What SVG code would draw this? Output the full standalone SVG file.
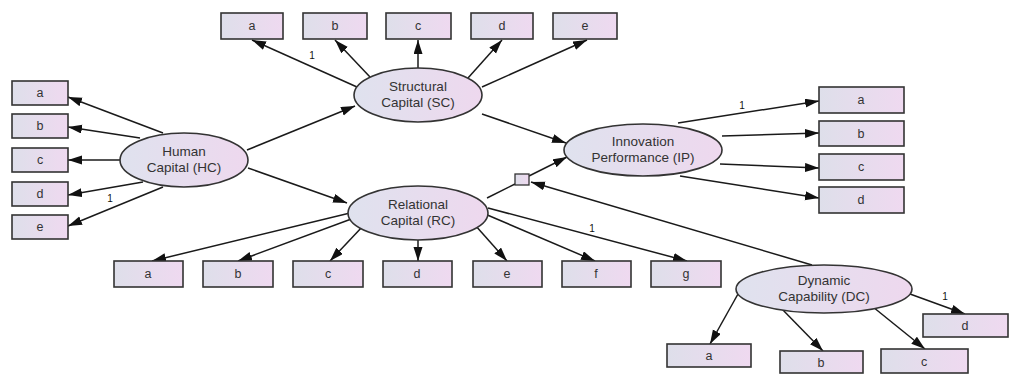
<svg xmlns="http://www.w3.org/2000/svg" width="1011" height="374" viewBox="0 0 1011 374">
<style>
.box{fill:url(#g);stroke:#333;stroke-width:1.6}
.lat{fill:url(#g2);stroke:#333;stroke-width:1.6}
.t{font-family:"Liberation Sans",Arial,sans-serif;font-size:12.5px;fill:#333;text-anchor:middle}
.lt{font-family:"Liberation Sans",Arial,sans-serif;font-size:13.5px;fill:#333;text-anchor:middle}
.one{font-family:"Liberation Sans",Arial,sans-serif;font-size:10px;fill:#111;text-anchor:middle}
#conn line{stroke:#1a1a1a;stroke-width:1.5;fill:none}
.a{marker-end:url(#ar)}
</style>
<defs>
<linearGradient id="g" x1="0" y1="0" x2="1" y2="0"><stop offset="0" stop-color="#dedfea"/><stop offset="1" stop-color="#efd9f0"/></linearGradient>
<linearGradient id="g2" x1="0" y1="0" x2="1" y2="0"><stop offset="0" stop-color="#dfe2ee"/><stop offset="1" stop-color="#eed8ee"/></linearGradient>
<marker id="ar" markerUnits="userSpaceOnUse" markerWidth="15" markerHeight="10" refX="14" refY="4.5" orient="auto"><path d="M0,0 L14,4.5 L0,9 z" fill="#111"/></marker>
</defs>
<rect width="1011" height="374" fill="#fff"/>
<g id="conn">
<line class="a" x1="357" y1="87" x2="252" y2="40"/>
<line class="a" x1="370" y1="77" x2="335" y2="40"/>
<line class="a" x1="418" y1="68" x2="418" y2="40"/>
<line class="a" x1="468" y1="78" x2="502" y2="40"/>
<line class="a" x1="482" y1="87" x2="587" y2="40"/>
<line class="a" x1="163" y1="133" x2="68" y2="97"/>
<line class="a" x1="140" y1="138" x2="68" y2="127"/>
<line class="a" x1="120" y1="160" x2="68" y2="160"/>
<line class="a" x1="143" y1="182" x2="68" y2="195"/>
<line class="a" x1="163" y1="187" x2="68" y2="226"/>
<line class="a" x1="678" y1="123" x2="819" y2="101"/>
<line class="a" x1="722" y1="136" x2="819" y2="133"/>
<line class="a" x1="720" y1="164" x2="819" y2="168"/>
<line class="a" x1="680" y1="176" x2="819" y2="198"/>
<line class="a" x1="350" y1="213" x2="152" y2="261"/>
<line class="a" x1="354" y1="218" x2="238" y2="261"/>
<line class="a" x1="363" y1="226" x2="330" y2="261"/>
<line class="a" x1="418" y1="240" x2="418" y2="261"/>
<line class="a" x1="475" y1="225" x2="507" y2="261"/>
<line class="a" x1="485" y1="214" x2="595" y2="261"/>
<line class="a" x1="488" y1="208" x2="687" y2="261"/>
<line class="a" x1="738" y1="294" x2="710" y2="344"/>
<line class="a" x1="780" y1="307" x2="823" y2="351"/>
<line class="a" x1="873" y1="307" x2="925" y2="349"/>
<line class="a" x1="910" y1="294" x2="965" y2="314"/>
<line class="a" x1="247" y1="150" x2="355" y2="106"/>
<line class="a" x1="248" y1="168" x2="347" y2="203"/>
<line class="a" x1="482" y1="114" x2="566" y2="143"/>
<line x1="487" y1="198" x2="515" y2="184"/>
<line class="a" x1="529" y1="176" x2="567" y2="157"/>
<line class="a" x1="812" y1="265" x2="531" y2="182"/>
</g>
<g id="square"><rect x="515" y="174" width="14" height="11" fill="url(#g)" stroke="#333" stroke-width="1.3"/></g>
<g id="labels1">
<text class="one" x="312" y="59">1</text>
<text class="one" x="110" y="202">1</text>
<text class="one" x="742" y="109">1</text>
<text class="one" x="592" y="232">1</text>
<text class="one" x="945" y="300">1</text>
</g>
<g id="SC"><ellipse class="lat" cx="418" cy="95" rx="64" ry="27"/><text class="lt" x="418" y="91">Structural</text><text class="lt" x="418" y="107">Capital (SC)</text></g>
<g id="HC"><ellipse class="lat" cx="184" cy="160" rx="64" ry="27"/><text class="lt" x="184" y="156">Human</text><text class="lt" x="184" y="172">Capital (HC)</text></g>
<g id="RC"><ellipse class="lat" cx="418" cy="213" rx="70" ry="27"/><text class="lt" x="418" y="209">Relational</text><text class="lt" x="418" y="225">Capital (RC)</text></g>
<g id="IP"><ellipse class="lat" cx="643" cy="150" rx="79" ry="26"/><text class="lt" x="643" y="146">Innovation</text><text class="lt" x="643" y="162">Performance (IP)</text></g>
<g id="DC"><ellipse class="lat" cx="824" cy="289" rx="88" ry="24"/><text class="lt" x="824" y="285">Dynamic</text><text class="lt" x="824" y="301">Capability (DC)</text></g>
<g id="SC_a"><rect class="box" x="221" y="13" width="62" height="26"/><text class="t" x="252" y="30">a</text></g>
<g id="SC_b"><rect class="box" x="303" y="13" width="64" height="26"/><text class="t" x="335" y="30">b</text></g>
<g id="SC_c"><rect class="box" x="386" y="13" width="65" height="26"/><text class="t" x="418" y="30">c</text></g>
<g id="SC_d"><rect class="box" x="471" y="13" width="62" height="26"/><text class="t" x="502" y="30">d</text></g>
<g id="SC_e"><rect class="box" x="553" y="13" width="64" height="26"/><text class="t" x="585" y="30">e</text></g>
<g id="HC_a"><rect class="box" x="12" y="81" width="56" height="24"/><text class="t" x="40" y="97">a</text></g>
<g id="HC_b"><rect class="box" x="12" y="114" width="56" height="24"/><text class="t" x="40" y="130">b</text></g>
<g id="HC_c"><rect class="box" x="12" y="148" width="56" height="24"/><text class="t" x="40" y="164">c</text></g>
<g id="HC_d"><rect class="box" x="12" y="182" width="56" height="24"/><text class="t" x="40" y="198">d</text></g>
<g id="HC_e"><rect class="box" x="12" y="215" width="56" height="24"/><text class="t" x="40" y="231">e</text></g>
<g id="IP_a"><rect class="box" x="819" y="87" width="85" height="26"/><text class="t" x="861" y="104">a</text></g>
<g id="IP_b"><rect class="box" x="819" y="121" width="85" height="25"/><text class="t" x="861" y="138">b</text></g>
<g id="IP_c"><rect class="box" x="819" y="154" width="85" height="26"/><text class="t" x="861" y="171">c</text></g>
<g id="IP_d"><rect class="box" x="819" y="187" width="85" height="26"/><text class="t" x="861" y="204">d</text></g>
<g id="RC_a"><rect class="box" x="114" y="261" width="69" height="26"/><text class="t" x="148" y="278">a</text></g>
<g id="RC_b"><rect class="box" x="203" y="261" width="70" height="26"/><text class="t" x="238" y="278">b</text></g>
<g id="RC_c"><rect class="box" x="293" y="261" width="70" height="26"/><text class="t" x="328" y="278">c</text></g>
<g id="RC_d"><rect class="box" x="383" y="261" width="69" height="26"/><text class="t" x="417" y="278">d</text></g>
<g id="RC_e"><rect class="box" x="473" y="261" width="69" height="26"/><text class="t" x="507" y="278">e</text></g>
<g id="RC_f"><rect class="box" x="562" y="261" width="69" height="26"/><text class="t" x="596" y="278">f</text></g>
<g id="RC_g"><rect class="box" x="651" y="261" width="70" height="26"/><text class="t" x="686" y="278">g</text></g>
<g id="DC_a"><rect class="box" x="667" y="344" width="84" height="23"/><text class="t" x="709" y="360">a</text></g>
<g id="DC_b"><rect class="box" x="780" y="351" width="83" height="22"/><text class="t" x="821" y="367">b</text></g>
<g id="DC_c"><rect class="box" x="881" y="349" width="87" height="24"/><text class="t" x="924" y="366">c</text></g>
<g id="DC_d"><rect class="box" x="923" y="314" width="85" height="23"/><text class="t" x="965" y="330">d</text></g>
</svg>
